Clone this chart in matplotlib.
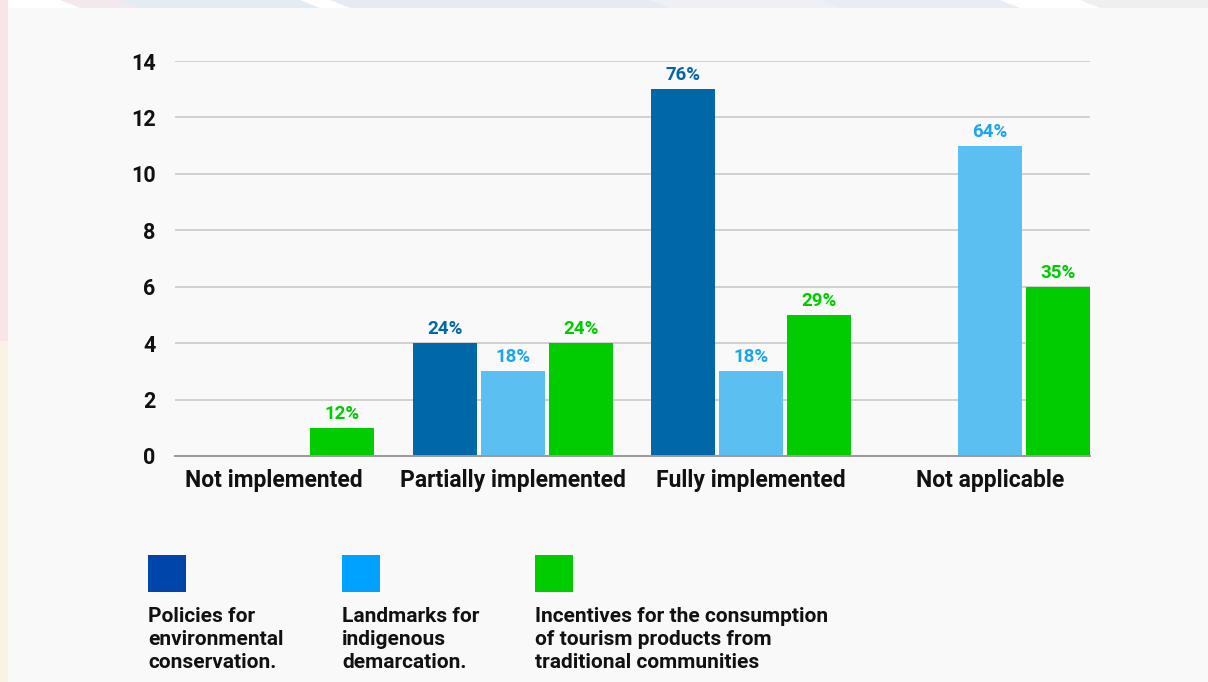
import matplotlib
matplotlib.use("Agg")
import matplotlib.pyplot as plt
import numpy as np
from matplotlib.patches import Rectangle, Polygon

categories = ["Not implemented", "Partially implemented", "Fully implemented", "Not applicable"]
series_names = ["Policies for\nenvironmental\nconservation.",
                "Landmarks for\nindigenous\ndemarcation.",
                "Incentives for the consumption\nof tourism products from\ntraditional communities"]
policies = [0, 4, 13, 0]
landmarks = [0, 3, 3, 11]
incentives = [1, 4, 5, 6]
policies_pct = ["", "24%", "76%", ""]
landmarks_pct = ["", "18%", "18%", "64%"]
incentives_pct = ["12%", "24%", "29%", "35%"]
y_ticks = [0, 2, 4, 6, 8, 10, 12, 14]

bar_colors = ["#0068a6", "#5bbff2", "#00cc00"]
label_colors = ["#0068a6", "#1ba5f0", "#00cc00"]
legend_colors = ["#0046aa", "#00a2ff", "#00cc00"]

plt.rcParams['font.family'] = ['Roboto', 'DejaVu Sans']

W, H = 1208, 682
fig = plt.figure(figsize=(W / 100, H / 100), dpi=100)
fig.patch.set_facecolor("white")

# decorative frame
fig.add_artist(Rectangle((0, 0.5), 8 / W, 0.5, transform=fig.transFigure, color="#f8e6e6", lw=0, zorder=-3))
fig.add_artist(Rectangle((0, 0), 8 / W, 0.5, transform=fig.transFigure, color="#fbf2e6", lw=0, zorder=-3))
for x0, c in [(60, "#f3e8ee"), (120, "#e3ecf2"), (330, "#e6ebf3"), (470, "#e6ebf3"), (650, "#eef0f6"), (820, "#e8edf5"), (1080, "#eef0f0"), (1290, "#e4f2e4")]:
    pts = [((x0) / W, 1), ((x0 + 180) / W, 1), ((x0 + 200) / W, 1 - 8 / H), ((x0 + 20) / W, 1 - 8 / H)]
    fig.add_artist(Polygon(pts, closed=True, transform=fig.transFigure, color=c, lw=0, zorder=-3))
fig.add_artist(Rectangle((8 / W, 0), 1 - 8 / W, 1 - 8 / H, transform=fig.transFigure,
                         color="#f9f9f9", lw=0, zorder=-2))

ax = fig.add_axes([175 / W, 1 - 456 / H, (1090 - 175) / W, (456 - 61) / H])
ax.set_zorder(1)
ax.set_facecolor("none")

x = np.arange(len(categories))
width = 0.268
step = 0.285
series = [policies, landmarks, incentives]
pcts = [policies_pct, landmarks_pct, incentives_pct]
for i, (vals, labs) in enumerate(zip(series, pcts)):
    xs = x + (i - 1) * step
    bars = ax.bar(xs, vals, width=width, color=bar_colors[i], zorder=3)
    for b, v, lab in zip(bars, vals, labs):
        if v > 0 and lab:
            ax.annotate(lab, (b.get_x() + b.get_width() / 2, v), xytext=(0, 3.5),
                        textcoords="offset points", ha="center", va="bottom",
                        fontsize=13.5, fontweight="bold", color=label_colors[i])

ax.set_xlim(-0.415, 3.42)
ax.set_ylim(0, 14)
ax.set_yticks(y_ticks)
ax.set_yticklabels([str(t) for t in y_ticks], fontsize=15.5, fontweight="bold", color="#111111")
ax.set_xticks(x)
ax.set_xticklabels(categories, fontsize=16.5, fontweight="bold", color="#111111")
ax.tick_params(axis="both", length=0)
ax.tick_params(axis="y", pad=14)
ax.tick_params(axis="x", pad=9)
ax.grid(axis="y", color="#d0d0d0", lw=1.4, zorder=0)
ax.set_axisbelow(True)
for s in ["top", "right", "left"]:
    ax.spines[s].set_visible(False)
ax.spines["bottom"].set_color("#9a9a9a")
ax.spines["bottom"].set_linewidth(1.4)
ax.spines["bottom"].set_zorder(4)

# custom legend
leg_x = [148, 342, 535]
for lx, c, name in zip(leg_x, legend_colors, series_names):
    fig.add_artist(Rectangle((lx / W, 1 - 592 / H), 38 / W, 37 / H, transform=fig.transFigure,
                             color=c, lw=0, zorder=2))
    fig.text(lx / W, 1 - 607 / H, name, ha="left", va="top", fontsize=15, fontweight="bold",
             color="#111111", linespacing=1.28)

fig.savefig("out.png", dpi=100, facecolor=fig.get_facecolor())
